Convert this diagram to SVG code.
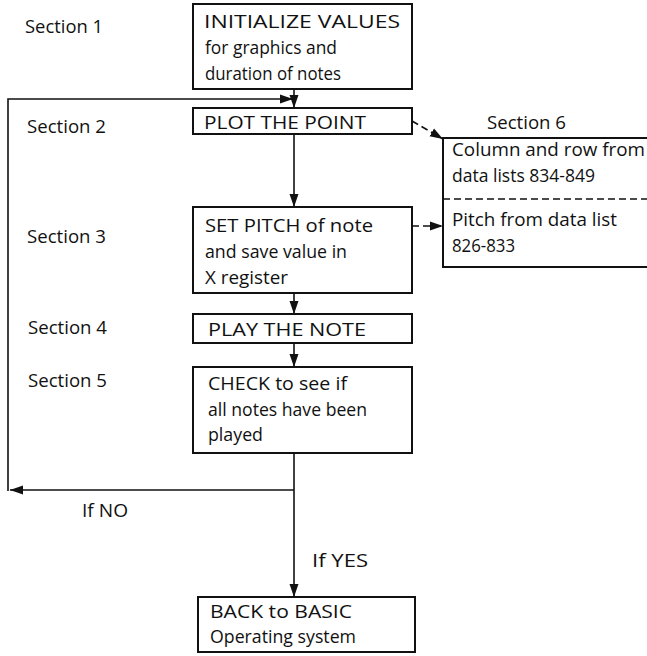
<svg xmlns="http://www.w3.org/2000/svg" width="647" height="656" viewBox="0 0 647 656">
<style>
text{font-family:"Open Sans","Liberation Sans",sans-serif;font-size:19px;fill:#111}
.box{fill:#fff;stroke:#111;stroke-width:2}
.ln{fill:none;stroke:#111;stroke-width:1.6}
.dash{fill:none;stroke:#111;stroke-width:1.6;stroke-dasharray:7 4}
</style>
<defs>
<marker id="ah" markerUnits="userSpaceOnUse" markerWidth="14" markerHeight="10" refX="13" refY="5" orient="auto">
<path d="M0,0.5 L13,5 L0,9.5 z" fill="#111"/>
</marker>
</defs>
<rect width="647" height="656" fill="#fff"/>
<g id="labels">
<text x="25" y="33" textLength="78" lengthAdjust="spacingAndGlyphs">Section 1</text>
<text x="27" y="133" textLength="79" lengthAdjust="spacingAndGlyphs">Section 2</text>
<text x="27" y="243" textLength="79" lengthAdjust="spacingAndGlyphs">Section 3</text>
<text x="28" y="334" textLength="79" lengthAdjust="spacingAndGlyphs">Section 4</text>
<text x="28" y="387" textLength="79" lengthAdjust="spacingAndGlyphs">Section 5</text>
<text x="487" y="129" textLength="79" lengthAdjust="spacingAndGlyphs">Section 6</text>
<text x="82" y="517" textLength="46" lengthAdjust="spacingAndGlyphs">If NO</text>
<text x="312" y="567" textLength="56" lengthAdjust="spacingAndGlyphs">If YES</text>
</g>
<g id="connectors">
<line class="ln" x1="294" y1="89" x2="294" y2="108" marker-end="url(#ah)"/>
<line class="ln" x1="294" y1="134" x2="294" y2="207" marker-end="url(#ah)"/>
<line class="ln" x1="294" y1="293" x2="294" y2="314" marker-end="url(#ah)"/>
<line class="ln" x1="294" y1="343" x2="294" y2="367" marker-end="url(#ah)"/>
<line class="ln" x1="294" y1="453" x2="294" y2="597" marker-end="url(#ah)"/>
<line class="ln" x1="294" y1="490" x2="10" y2="490" marker-end="url(#ah)"/>
<path class="ln" d="M8,491 V99 H293" marker-end="url(#ah)"/>
<line class="dash" x1="412" y1="121" x2="443" y2="139" marker-end="url(#ah)"/>
<line class="dash" x1="412" y1="226" x2="443" y2="226" marker-end="url(#ah)"/>
</g>
<g id="n1">
<rect class="box" x="193" y="4" width="219" height="85"/>
<text x="204" y="28" textLength="196" lengthAdjust="spacingAndGlyphs">INITIALIZE VALUES</text>
<text x="205" y="54" textLength="132" lengthAdjust="spacingAndGlyphs">for graphics and</text>
<text x="205" y="80" textLength="136" lengthAdjust="spacingAndGlyphs">duration of notes</text>
</g>
<g id="n2">
<rect class="box" x="193" y="108" width="219" height="26"/>
<text x="204" y="129" textLength="162" lengthAdjust="spacingAndGlyphs">PLOT THE POINT</text>
</g>
<g id="n3">
<rect class="box" x="193" y="207" width="219" height="86"/>
<text x="205" y="232" textLength="168" lengthAdjust="spacingAndGlyphs">SET PITCH of note</text>
<text x="205" y="258" textLength="142" lengthAdjust="spacingAndGlyphs">and save value in</text>
<text x="205" y="284" textLength="83" lengthAdjust="spacingAndGlyphs">X register</text>
</g>
<g id="n4">
<rect class="box" x="193" y="314" width="219" height="29"/>
<text x="208" y="336" textLength="158" lengthAdjust="spacingAndGlyphs">PLAY THE NOTE</text>
</g>
<g id="n5">
<rect class="box" x="193" y="367" width="219" height="86"/>
<text x="208" y="390" textLength="139" lengthAdjust="spacingAndGlyphs">CHECK to see if</text>
<text x="208" y="416" textLength="159" lengthAdjust="spacingAndGlyphs">all notes have been</text>
<text x="208" y="441" textLength="55" lengthAdjust="spacingAndGlyphs">played</text>
</g>
<g id="n6">
<rect class="box" x="198" y="597" width="217" height="55"/>
<text x="210" y="618" textLength="142" lengthAdjust="spacingAndGlyphs">BACK to BASIC</text>
<text x="210" y="643" textLength="146" lengthAdjust="spacingAndGlyphs">Operating system</text>
</g>
<g id="n7">
<path class="box" d="M650,138 H443 V267 H650"/>
<line class="dash" x1="443" y1="199" x2="647" y2="199" stroke-dasharray="9 4"/>
<text x="452" y="156" textLength="193" lengthAdjust="spacingAndGlyphs">Column and row from</text>
<text x="452" y="182" textLength="143" lengthAdjust="spacingAndGlyphs">data lists 834-849</text>
<text x="452" y="226" textLength="165" lengthAdjust="spacingAndGlyphs">Pitch from data list</text>
<text x="452" y="252" textLength="63" lengthAdjust="spacingAndGlyphs">826-833</text>
</g>
</svg>
